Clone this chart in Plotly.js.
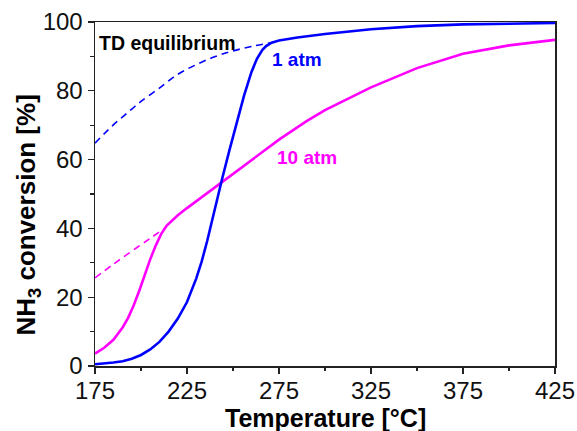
<!DOCTYPE html>
<html>
<head>
<meta charset="utf-8">
<script src="https://cdn.plot.ly/plotly-3.0.1.min.js"></script>
<style>html,body{margin:0;padding:0;background:#fff;}#chart{width:577px;height:431px;}</style>
</head>
<body>
<div id="chart"></div>
<script>
// 1 atm kinetic conversion (solid blue)
const t1atm = [175, 180, 185, 190, 195, 200, 205, 210, 215, 220, 225, 230, 233, 236, 240, 244, 248, 252, 256, 260, 263, 266, 268, 271, 275, 285, 300, 325, 350, 375, 400, 425];
const y1atm = [0.5, 0.7, 1.0, 1.4, 2.1, 3.2, 4.8, 7.0, 10.0, 13.8, 18.6, 25.4, 30.4, 36.4, 45.5, 54.2, 62.6, 70.8, 78.6, 85.4, 89.3, 91.9, 93.0, 94.0, 94.6, 95.5, 96.5, 97.9, 98.8, 99.3, 99.6, 99.7];
// 1 atm TD equilibrium (dashed blue)
const tEq1 = [175, 180, 185, 190, 195, 200, 210, 220, 230, 240, 250, 260, 271];
const yEq1 = [64.8, 67.5, 70.1, 72.4, 74.7, 76.9, 80.8, 84.8, 87.6, 89.9, 91.6, 92.9, 94.0];
// 10 atm kinetic conversion (solid magenta)
const t10atm = [175, 180, 185, 190, 193, 196, 199, 202, 205, 208, 211, 214, 217, 220, 225, 232, 240, 250, 262, 275, 290, 300, 325, 350, 375, 400, 425];
const y10atm = [3.6, 5.3, 7.6, 11.2, 14.0, 17.6, 21.8, 26.6, 31.0, 35.0, 38.4, 40.8, 42.4, 43.8, 45.9, 48.7, 52.0, 56.0, 60.8, 65.8, 71.2, 74.4, 81.0, 86.6, 90.8, 93.2, 94.8];
// 10 atm TD equilibrium (dashed magenta)
const tEq10 = [175, 185, 195, 205, 213];
const yEq10 = [25.6, 29.6, 33.4, 37.1, 40.1];

const xTicks = [175, 225, 275, 325, 375, 425];
const xMinor = [200, 250, 300, 350, 400];
const yTicks = [0, 20, 40, 60, 80, 100];
const yMinor = [10, 30, 50, 70, 90];

const BLUE = '#0000FF', MAG = '#FF00FF';
const FONT = 'Arial, "Liberation Sans", Helvetica, sans-serif';

const traces = [
  {x: tEq1, y: yEq1, mode: 'lines', line: {color: BLUE, width: 1.6, dash: '7px,5px', shape: 'spline'}},
  {x: tEq10, y: yEq10, mode: 'lines', line: {color: MAG, width: 1.6, dash: '7px,5px', shape: 'spline'}},
  {x: t10atm, y: y10atm, mode: 'lines', line: {color: MAG, width: 2.6, shape: 'linear'}},
  {x: t1atm, y: y1atm, mode: 'lines', line: {color: BLUE, width: 2.6, shape: 'linear'}}
];

const axisCommon = {
  showgrid: false, zeroline: false,
  showline: true, linecolor: '#222', linewidth: 1.5, mirror: true,
  ticks: 'outside', ticklen: 6, tickwidth: 1.3, tickcolor: '#222',
  tickfont: {family: FONT, size: 24, color: '#111'}
};

const layout = {
  width: 577, height: 431,
  margin: {l: 95, r: 22, t: 22, b: 65},
  paper_bgcolor: '#fff', plot_bgcolor: '#fff',
  showlegend: false,
  xaxis: Object.assign({}, axisCommon, {
    range: [175, 425], tickvals: xTicks, ticktext: xTicks.map(String),
    ticklabelstandoff: -3,
    minor: {tickvals: xMinor, ticks: 'outside', ticklen: 3.5, tickwidth: 1.1, tickcolor: '#222'}
  }),
  yaxis: Object.assign({}, axisCommon, {
    range: [0, 100], tickvals: yTicks, ticktext: yTicks.map(String),
    minor: {tickvals: yMinor, ticks: 'outside', ticklen: 3.5, tickwidth: 1.1, tickcolor: '#222'}
  }),
  annotations: [
    {x: 0.5, y: -0.150, xref: 'paper', yref: 'paper', text: 'Temperature [°C]', showarrow: false,
     xanchor: 'center', yanchor: 'middle', font: {family: FONT, size: 25, color: '#000', weight: 'bold'}},
    {x: -0.1457, y: 0.4404, xref: 'paper', yref: 'paper', text: 'NH<sub>3</sub> conversion [%]', showarrow: false,
     textangle: -90, xanchor: 'center', yanchor: 'middle', font: {family: FONT, size: 26, color: '#000', weight: 'bold'}},
    {x: 176.3, y: 93.9, xref: 'x', yref: 'y', text: 'TD equilibrium', showarrow: false, xanchor: 'left', yanchor: 'middle',
     font: {family: FONT, size: 19.5, color: '#000', weight: 'bold'}},
    {x: 270.1, y: 89, xref: 'x', yref: 'y', text: '1 atm', showarrow: false, xanchor: 'left', yanchor: 'middle',
     font: {family: FONT, size: 19, color: BLUE, weight: 'bold'}},
    {x: 273.0, y: 60.5, xref: 'x', yref: 'y', text: '10 atm', showarrow: false, xanchor: 'left', yanchor: 'middle',
     font: {family: FONT, size: 19, color: MAG, weight: 'bold'}}
  ]
};

Plotly.newPlot('chart', traces, layout, {displayModeBar: false, staticPlot: true});
</script>
</body>
</html>
